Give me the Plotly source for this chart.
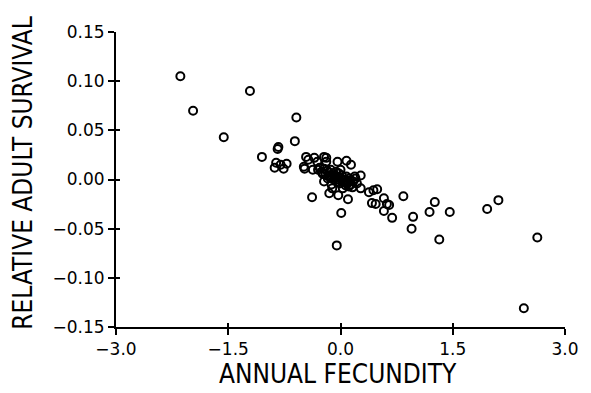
import plotly.graph_objects as go

# Annual fecundity (x) and relative adult survival (y)
fecundity = [
    -2.14, -1.97, -1.21, -1.56, -0.59, -0.61, -0.83, -0.84, -1.05, -0.86,
    -0.88, -0.72, -0.76, -0.80, -0.49, -0.46, -0.43, -0.48, -0.38, -0.37,
    -0.35, -0.31, -0.22, -0.19, -0.19, -0.04, 0.08, 0.14, 0.27, -0.22,
    -0.15, -0.03, 0.10, 0.01, -0.05, 0.27, 0.38, 0.44, 0.49, 0.47,
    0.58, 0.62, 0.65, 0.58, 0.69, 0.84, 0.97, 0.95, 1.19, 1.26,
    1.46, 1.32, 1.96, 2.11, 2.63, 2.45, 0.20, -0.11, 0.03, 0.16,
    -0.30, 0.42,
    -0.28, -0.25, -0.22, -0.20, -0.18, -0.16, -0.15, -0.13, -0.12, -0.10,
    -0.09, -0.08, -0.06, -0.05, -0.04, -0.02, -0.01, 0.00, 0.02, 0.03,
    0.05, 0.07, 0.08, 0.10, 0.12, 0.14, 0.17, 0.19, 0.22, -0.12, 0.00,
    -0.14, -0.07, -0.03, 0.04, 0.09, 0.13, -0.24, -0.17, 0.06, 0.11,
]
survival = [
    0.105, 0.070, 0.090, 0.043, 0.063, 0.039, 0.033, 0.031, 0.023, 0.017,
    0.012, 0.016, 0.011, 0.015, 0.013, 0.023, 0.020, 0.011, -0.018, 0.010,
    0.022, 0.018, 0.023, 0.022, 0.018, 0.018, 0.019, 0.015, 0.004, -0.002,
    -0.014, -0.016, -0.020, -0.034, -0.067, -0.009, -0.013, -0.011, -0.010, -0.025,
    -0.019, -0.025, -0.026, -0.032, -0.039, -0.017, -0.038, -0.050, -0.033, -0.023,
    -0.033, -0.061, -0.030, -0.021, -0.059, -0.131, 0.001, -0.009, -0.009, -0.008,
    0.010, -0.024,
    0.012, 0.008, 0.011, 0.005, 0.009, 0.003, 0.007, 0.010, 0.002, 0.006,
    0.000, 0.004, 0.008, -0.002, 0.003, 0.006, -0.004, 0.001, 0.004, -0.003,
    0.000, -0.006, 0.003, -0.002, 0.001, -0.005, -0.002, 0.003, -0.004, -0.005, 0.010,
    0.004, 0.002, 0.000, -0.001, -0.004, -0.001, 0.006, 0.001, -0.003, -0.007,
]

x_ticks = [-3.0, -1.5, 0.0, 1.5, 3.0]
x_labels = ["\u22123.0", "\u22121.5", "0.0", "1.5", "3.0"]
y_ticks = [-0.15, -0.10, -0.05, 0.00, 0.05, 0.10, 0.15]
y_labels = ["\u22120.15", "\u22120.10", "\u22120.05", "0.00", "0.05", "0.10", "0.15"]

x_title = "ANNUAL FECUNDITY"
y_title = "RELATIVE ADULT SURVIVAL"

tick_font = dict(family="DejaVu Sans, Arial, sans-serif", size=17, color="black")
title_font = dict(family="Liberation Sans Narrow, Arial Narrow, DejaVu Sans Condensed, Arial, sans-serif",
                  size=26, color="black")

fig = go.Figure()
fig.add_trace(go.Scatter(
    x=fecundity, y=survival, mode="markers",
    marker=dict(symbol="circle-open", size=8, color="black", line=dict(width=2)),
    hoverinfo="skip", showlegend=False,
))
# invisible copy on the overlay axes so that the inner half of the crossing ticks is drawn
fig.add_trace(go.Scatter(
    x=fecundity, y=survival, mode="markers", xaxis="x2", yaxis="y2",
    marker=dict(size=1, opacity=0), hoverinfo="skip", showlegend=False,
))

common = dict(showgrid=False, zeroline=False, tickcolor="black", tickwidth=1.5)

fig.update_layout(
    width=591, height=393,
    margin=dict(l=116, r=21, t=32, b=66),
    paper_bgcolor="white", plot_bgcolor="white",
    xaxis=dict(range=[-3, 3], tickvals=x_ticks, ticktext=x_labels, ticks="outside", ticklen=6,
               showline=True, linewidth=2, linecolor="black", tickfont=tick_font, **common),
    yaxis=dict(range=[-0.15, 0.15], tickvals=y_ticks, ticktext=y_labels, ticks="outside", ticklen=6,
               showline=True, linewidth=2, linecolor="black", tickfont=tick_font, **common),
    xaxis2=dict(overlaying="x", matches="x", anchor="y", side="bottom", tickvals=x_ticks,
                ticks="inside", ticklen=4, showticklabels=False, showline=False, **common),
    yaxis2=dict(overlaying="y", matches="y", anchor="x", side="left", tickvals=y_ticks,
                ticks="inside", ticklen=4, showticklabels=False, showline=False, **common),
    annotations=[
        dict(text=x_title, xref="paper", yref="paper", x=0.495, y=-0.158,
             xanchor="center", yanchor="middle", showarrow=False, font=title_font),
        dict(text=y_title, xref="paper", yref="paper", x=-0.207, y=0.52, textangle=-90,
             xanchor="center", yanchor="middle", showarrow=False, font=title_font),
    ],
)

fig.write_html("out.html")
